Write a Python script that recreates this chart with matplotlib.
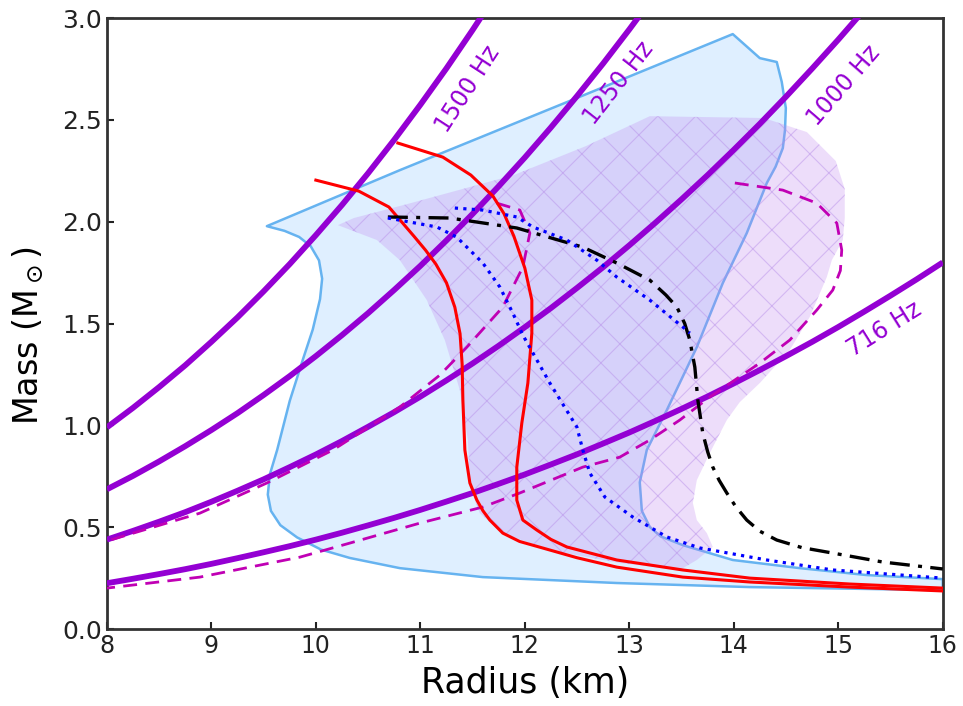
import numpy as np
import matplotlib
matplotlib.use('Agg')
import matplotlib.pyplot as plt
from matplotlib.patches import Polygon

# mass-shedding curves, every 0.25 km
freq_r = [8.0, 8.25, 8.5, 8.75, 9.0, 9.25, 9.5, 9.75, 10.0, 10.25, 10.5, 10.75, 11.0, 11.25,
          11.5, 11.75, 12.0, 12.25, 12.5, 12.75, 13.0, 13.25, 13.5, 13.75, 14.0, 14.25,
          14.5, 14.75, 15.0, 15.25, 15.5, 15.75, 16.0]
m_716 = [0.225, 0.247, 0.270, 0.294, 0.320, 0.348, 0.377, 0.407, 0.439, 0.473, 0.509, 0.546,
         0.585, 0.626, 0.668, 0.713, 0.759, 0.808, 0.858, 0.911, 0.965, 1.022, 1.081, 1.142,
         1.206, 1.272, 1.340, 1.410, 1.483, 1.559, 1.637, 1.717, 1.800]
m_1000 = [0.439, 0.482, 0.527, 0.574, 0.625, 0.679, 0.735, 0.795, 0.857, 0.923, 0.993, 1.065,
          1.141, 1.221, 1.304, 1.391, 1.482, 1.576, 1.675, 1.777, 1.884, 1.995, 2.110, 2.229,
          2.353, 2.481, 2.614, 2.752, 2.894, 3.041]
m_1250 = [0.686, 0.752, 0.823, 0.898, 0.977, 1.060, 1.149, 1.242, 1.340, 1.443, 1.551, 1.665,
          1.783, 1.908, 2.038, 2.174, 2.315, 2.463, 2.617, 2.777, 2.944, 3.117]
m_1500 = [0.990, 1.086, 1.188, 1.295, 1.410, 1.530, 1.658, 1.792, 1.934, 2.082, 2.238, 2.402,
          2.574, 2.753, 2.941, 3.137]
freq_labels = ['716 Hz', '1000 Hz', '1250 Hz', '1500 Hz']
label_r = [15.44, 15.05, 12.90, 11.45]
label_m = [1.47, 2.67, 2.68, 2.65]
label_rot = [32, 49, 52, 57]

# blue allowed region outline
blue_r = [9.531, 10.804, 12.402, 13.99, 14.249, 14.411, 14.459, 14.498, 14.49, 14.469, 14.40, 14.316,
          14.124, 13.895, 13.646, 13.359, 13.167, 13.10, 13.12, 13.196, 13.30, 13.512, 13.99,
          14.632, 15.273, 16.0, 16.0, 14.153, 12.88, 11.598, 10.804, 10.325, 10.05, 9.82,
          9.66, 9.57, 9.54, 9.56, 9.63, 9.75, 9.88, 9.97, 10.04, 10.06, 10.03, 9.95, 9.84, 9.70]
blue_m = [1.978, 2.253, 2.587, 2.921, 2.803, 2.784, 2.686, 2.558, 2.45, 2.361, 2.27, 2.19,
          1.944, 1.699, 1.384, 1.075, 0.879, 0.72, 0.58, 0.501, 0.455, 0.412, 0.339,
          0.299, 0.265, 0.245, 0.191, 0.206, 0.226, 0.255, 0.299, 0.349, 0.39, 0.45,
          0.51, 0.58, 0.66, 0.76, 0.88, 1.12, 1.33, 1.47, 1.62, 1.72, 1.81, 1.88, 1.925, 1.955]

# purple hatched region
purp_r = [10.211, 10.364, 10.871, 11.895, 12.584, 13.196, 14.287, 14.699, 14.976, 15.062, 15.062,
          15.043, 14.938, 14.89, 14.727, 14.536, 14.249, 14.057, 13.933, 13.77, 13.646, 13.608,
          13.646, 13.742, 13.799, 13.646, 13.483, 12.909, 12.335, 12.048, 11.789, 11.569, 11.474,
          11.455, 11.378, 11.234, 11.062, 10.804, 10.584]
purp_m = [1.983, 2.018, 2.086, 2.229, 2.371, 2.518, 2.509, 2.44, 2.298, 2.16, 2.018,
          1.91, 1.811, 1.728, 1.532, 1.37, 1.208, 1.114, 1.026, 0.864, 0.731, 0.619,
          0.535, 0.471, 0.403, 0.339, 0.29, 0.324, 0.378, 0.422, 0.471, 0.569, 0.697,
          0.928, 1.173, 1.419, 1.615, 1.811, 1.91]

# EOS curves
red1_r = [10.0, 10.411, 10.699, 10.938, 11.05, 11.148, 11.25, 11.33, 11.38, 11.40, 11.407, 11.426,
          11.474, 11.541, 11.60, 11.665, 11.789, 11.95, 12.239, 12.5, 12.88, 13.512, 14.153, 15.11, 16.0]
red1_m = [2.204, 2.15, 2.072, 1.929, 1.86, 1.792, 1.70, 1.58, 1.45, 1.30, 1.124, 0.879,
          0.717, 0.633, 0.58, 0.535, 0.471, 0.43, 0.388, 0.35, 0.304, 0.255, 0.231, 0.206, 0.187]
red2_r = [10.785, 11.215, 11.483, 11.694, 11.80, 11.895, 12.0, 12.067, 12.067, 12.029, 11.971, 11.923,
          11.923, 11.981, 12.115, 12.25, 12.402, 12.88, 13.512, 14.153, 15.11, 16.0]
red2_m = [2.386, 2.317, 2.229, 2.126, 2.04, 1.929, 1.772, 1.615, 1.453, 1.208, 1.011, 0.795,
          0.633, 0.535, 0.486, 0.44, 0.403, 0.339, 0.29, 0.25, 0.221, 0.201]
black_r = [10.689, 11.282, 11.923, 12.555, 12.88, 13.196, 13.35, 13.455, 13.53, 13.579, 13.627, 13.656,
           13.703, 13.75, 13.799, 13.86, 13.933, 14.02, 14.124, 14.25, 14.411, 14.65, 14.947, 15.426, 16.0]
black_m = [2.023, 2.018, 1.969, 1.875, 1.797, 1.713, 1.64, 1.581, 1.50, 1.419, 1.286, 1.124,
           0.962, 0.87, 0.795, 0.73, 0.668, 0.60, 0.535, 0.48, 0.437, 0.40, 0.373, 0.329, 0.295]
dot1_r = [10.689, 11.158, 11.349, 11.445, 11.598, 11.761, 11.885, 11.981, 12.239, 12.498, 12.555,
          12.622, 12.766, 13.033, 13.359, 13.675, 14.316, 14.947, 16.0]
dot1_m = [2.018, 1.974, 1.924, 1.875, 1.797, 1.679, 1.551, 1.443, 1.208, 0.992, 0.879,
          0.766, 0.648, 0.55, 0.452, 0.398, 0.339, 0.29, 0.25]
dot2_r = [11.33, 11.598, 11.923, 12.077, 12.402, 12.689, 12.88, 13.196, 13.512, 13.579]
dot2_m = [2.067, 2.057, 2.023, 1.974, 1.91, 1.811, 1.728, 1.615, 1.483, 1.453]
dashA_r = [14.01, 14.469, 14.794, 14.986, 15.033, 15.02, 14.947, 14.794, 14.536, 14.249, 13.77, 13.483,
           13.196, 12.909, 12.555, 11.952, 11.598, 10.995, 10.325, 9.847, 8.89, 8.0]
dashA_m = [2.19, 2.155, 2.091, 1.993, 1.861, 1.76, 1.664, 1.566, 1.419, 1.306, 1.139, 1.026,
           0.928, 0.844, 0.795, 0.668, 0.599, 0.52, 0.422, 0.353, 0.255, 0.201]
dashB_r = [11.732, 11.952, 12.048, 11.981, 11.789, 11.445, 11.187, 10.804, 10.163, 9.531, 8.89, 8.0]
dashB_m = [2.091, 2.057, 1.944, 1.777, 1.581, 1.384, 1.247, 1.09, 0.879, 0.717, 0.569, 0.432]

freq_color = '#9400d3'

fig = plt.figure(figsize=(9.63, 7.06), dpi=100)
ax = fig.add_axes([0.111, 0.109, 0.868, 0.8655])

blue = Polygon(np.column_stack([blue_r, blue_m]), closed=True,
               facecolor=(0.12, 0.56, 1.0, 0.14), edgecolor='#66b3f0', lw=1.8,
               joinstyle='round', zorder=1)
ax.add_patch(blue)

purp = Polygon(np.column_stack([purp_r, purp_m]), closed=True,
               facecolor=(0.75, 0.51, 0.94, 0.27), edgecolor='none', zorder=2)
ax.add_patch(purp)

# cross hatch drawn by hand so the spacing matches
bb = ax.get_position()
w_px = bb.width * fig.get_figwidth() * fig.dpi
h_px = bb.height * fig.get_figheight() * fig.dpi
step = 38.0
xs = np.array([0.0, w_px])
for c in np.arange(-w_px, h_px + w_px, step):
    for ys in (c + xs, c - xs):
        ln, = ax.plot(xs / w_px, ys / h_px, transform=ax.transAxes, color='#b58be8',
                      lw=0.8, alpha=0.45, zorder=3)
        ln.set_clip_path(purp)

for m_vals in [m_716, m_1000, m_1250, m_1500]:
    ax.plot(freq_r[:len(m_vals)], m_vals, color=freq_color, lw=4.2, zorder=4,
            solid_capstyle='butt', solid_joinstyle='round')

for txt, x, y, rot in zip(freq_labels, label_r, label_m, label_rot):
    ax.text(x, y, txt, color=freq_color, fontsize=17, rotation=rot,
            ha='center', va='center', rotation_mode='anchor', zorder=6)

ax.plot(dashA_r, dashA_m, color='#c000b4', lw=2, dashes=(5, 3), zorder=5)
ax.plot(dashB_r, dashB_m, color='#c000b4', lw=2, dashes=(5, 3), zorder=5)
ax.plot(red1_r, red1_m, color='red', lw=2.2, zorder=5, solid_joinstyle='round')
ax.plot(red2_r, red2_m, color='red', lw=2.2, zorder=5, solid_joinstyle='round')
ax.plot(black_r, black_m, color='black', lw=2.4, linestyle='-.', dashes=(6, 2.5, 1.2, 2.5), zorder=5)
ax.plot(dot1_r, dot1_m, color='blue', lw=2.3, linestyle=':', zorder=5)
ax.plot(dot2_r, dot2_m, color='blue', lw=2.3, linestyle=':', zorder=5)

ax.set_xlim(8, 16)
ax.set_ylim(0, 3)
ax.set_xticks(range(8, 17))
ax.set_yticks([0.0, 0.5, 1.0, 1.5, 2.0, 2.5, 3.0])
ax.set_yticklabels(['0.0', '0.5', '1.0', '1.5', '2.0', '2.5', '3.0'])
ax.tick_params(direction='in', length=5, width=1.5, labelsize=17, colors='#222222',
               top=False, right=False)
ax.tick_params(axis='y', labelsize=18)
for s in ax.spines.values():
    s.set_linewidth(2)
    s.set_color('#333333')
ax.set_xlabel('Radius (km)', fontsize=25, labelpad=6)
ax.set_ylabel(r'Mass (M$_\odot$)', fontsize=24)
ax.yaxis.set_label_coords(-0.073, 0.48)

fig.savefig('out.png', dpi=100)
